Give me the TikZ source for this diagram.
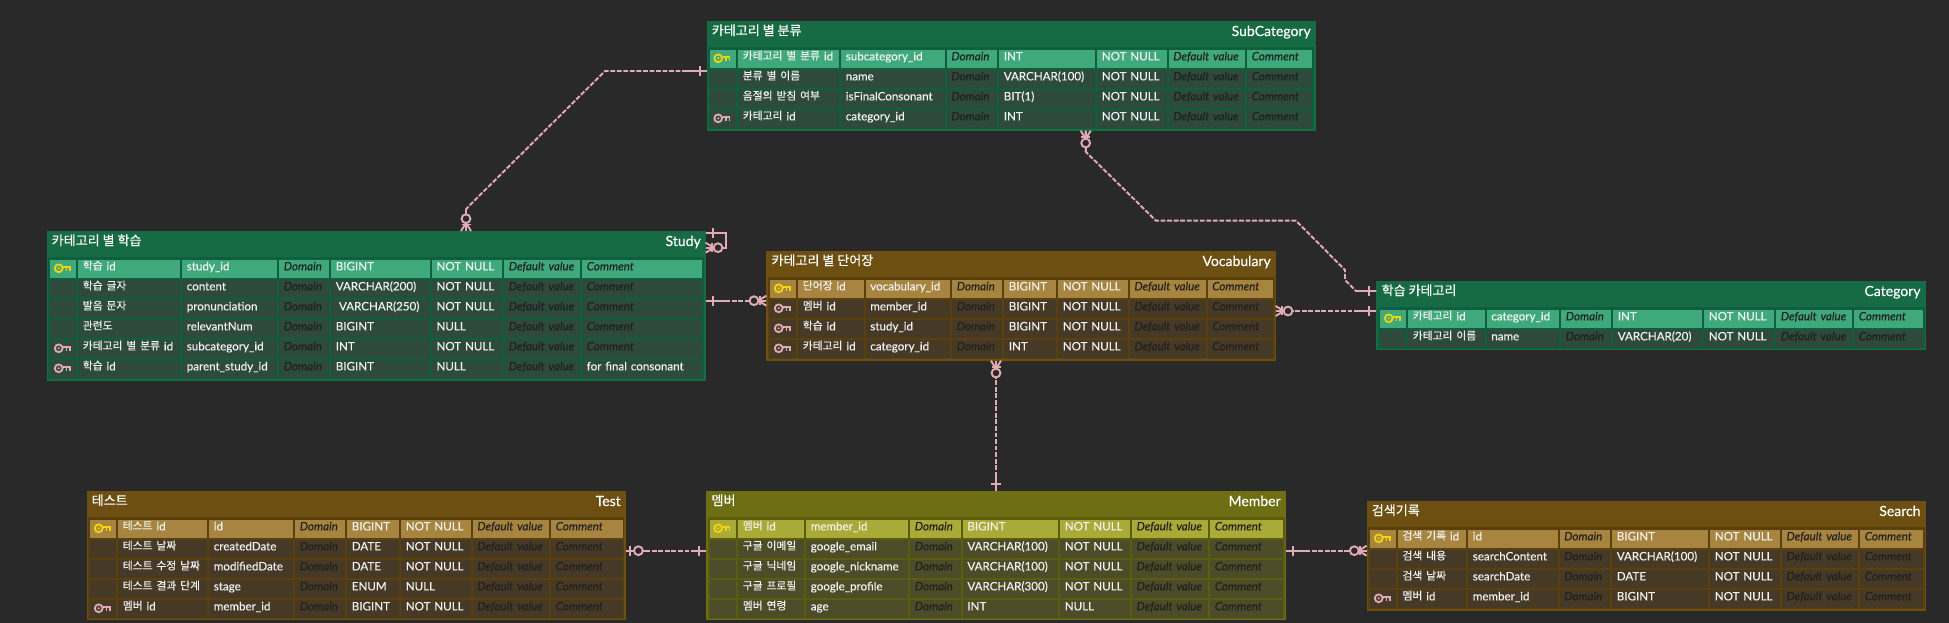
\documentclass[tikz,border=0pt]{standalone}
\usepackage{fontspec}
\setmainfont[FakeBold=0.2]{Lato}
\newfontfamily\cjk[FakeBold=0.25,Scale=0.93]{Noto Sans CJK KR}
\usepackage{tikz}
\usetikzlibrary{positioning}

\definecolor{pagebg}{HTML}{292929}
\definecolor{greenhead}{HTML}{166B45}
\definecolor{greenframe}{HTML}{0F5F3C}
\definecolor{greenpk}{HTML}{40A97B}
\definecolor{greenrow}{HTML}{2D4A3B}
\definecolor{brownhead}{HTML}{6E4F12}
\definecolor{brownframe}{HTML}{5A400C}
\definecolor{brownpk}{HTML}{A78540}
\definecolor{brownrow}{HTML}{463A26}
\definecolor{olivehead}{HTML}{6E6E14}
\definecolor{oliveframe}{HTML}{5C5C0E}
\definecolor{olivepk}{HTML}{AAAA38}
\definecolor{oliverow}{HTML}{4C4C28}
\definecolor{relpink}{HTML}{E0ABB5}
\definecolor{goldkey}{HTML}{F2D40F}
\definecolor{cellwhite}{HTML}{F2F2F2}
\definecolor{dimtxt}{HTML}{202020}

\newcommand{\ko}[1]{{\cjk\raisebox{0.6pt}{#1}}}
\newcounter{rowno}

\tikzset{
	x=0.75pt, y=-0.75pt,
	ercell/.style={anchor=north west, inner xsep=3.4pt, inner ysep=0pt,
		text height=8.1pt, text depth=5.4pt, text=cellwhite,
		font=\fontsize{8.7}{10}\selectfont},
	dimcell/.style={ercell, text=dimtxt},
	ertable/.style={inner sep=0pt, outer sep=0pt},
	ertitle/.style={inner sep=0pt, text=white, font=\fontsize{10.5}{12}\selectfont},
	relline/.style={draw=relpink, line width=1.45pt, dash pattern=on 3.6pt off 1.3pt},
	relsolid/.style={draw=relpink, line width=1.45pt},
	pics/onemark/.style={code={
		\draw[relsolid] (0,0) -- (#1,0);
		\draw[relsolid] (7,-5) -- (7,5);
	}},
	pics/manymark/.style={code={
		\draw[relsolid] (0,0) -- (#1,0);
		\draw[relsolid] (0,-5) -- (8,0) -- (0,5);
		\draw[relsolid] (6.5,-4.5) -- (6.5,4.5);
		\draw[relsolid, fill=pagebg] (12.3,0) circle[radius=4.4];
	}},
	pics/optonemark/.style={code={
		\draw[relsolid] (0,0) -- (#1,0);
		\draw[relsolid] (4.5,-5) -- (4.5,5);
		\draw[relsolid, fill=pagebg] (12.7,0) circle[radius=4.4];
	}},
	pics/keyicon/.style={code={
		\draw[#1, line width=1.35pt] (-4.3,0) circle[radius=3.9];
		\fill[#1] (-4.3,0) circle[radius=1.2];
		\draw[#1, line width=1.35pt] (0,-1.5) -- (7,-1.5) -- (7,3);
		\draw[#1, line width=1.35pt] (3.5,-1.5) -- (3.5,3);
	}}
}

\newcommand{\setcols}[9]{\def\ca{#1}\def\cb{#2}\def\cc{#3}\def\cd{#4}\def\ce{#5}\def\cf{#6}\def\cg{#7}\def\ch{#8}\def\ci{#9}}

% name, left, top, right, bottom, theme, korean, english
\newcommand{\ertabledraw}[8]{
	\def\tbl{#1}\def\tbltop{#3}\def\tbltheme{#6}
	\setcounter{rowno}{0}
	\pgfmathsetmacro\tblw{(#4-#2)*0.75}
	\pgfmathsetmacro\tblh{(#5-#3)*0.75}
	\node[ertable, fill=#6head, minimum width=\tblw pt, minimum height=\tblh pt, anchor=north west] (#1) at (#2,#3) {};
	\node[ertitle, anchor=base west] (#1-ko) at (#2+5,#3+15) {\ko{#7}};
	\node[ertitle, anchor=base east] (#1-en) at (#4-4.7,#3+15) {#8};
	\pgfmathsetmacro\frameleft{\ca-2}
	\pgfmathsetmacro\frametop{#3+26.3}
	\pgfmathsetmacro\framebot{#5-1.4}
	\fill[#6frame] (\frameleft,\frametop) rectangle (\ci,\framebot);
}

\newcommand{\ercellnode}[6]{
	\pgfmathsetmacro\cellw{(#3-#2-2)*0.75}
	\pgfmathsetmacro\textw{\cellw-6.8}
	\node[#4, fill=\rowfill, minimum height=13.5pt, text width=\textw pt] (\tbl-\therowno-#1) at (#2,\rowtop) {\mbox{#5}};
}

% fill, key, name, physical, type, null, comment
\newcommand{\errow}[7]{
	\stepcounter{rowno}
	\pgfmathsetmacro\rowtop{\tbltop+28.3+20*(\therowno-1)}
	\pgfmathsetmacro\keyy{\rowtop+9}
	\pgfmathsetmacro\keyx{\ca+13}
	\def\rowfill{#1}
	\ercellnode{key}{\ca}{\cb}{ercell}{}{}
	\ercellnode{name}{\cb}{\cc}{ercell}{#3}{}
	\ercellnode{phys}{\cc}{\cd}{ercell}{#4}{}
	\ercellnode{dom}{\cd}{\ce}{dimcell}{\itshape Domain}{}
	\ercellnode{type}{\ce}{\cf}{ercell}{#5}{}
	\ercellnode{null}{\cf}{\cg}{ercell}{#6}{}
	\ercellnode{def}{\cg}{\ch}{dimcell}{\itshape Default value}{}
	\def\cmttext{#7}
	\ifx\cmttext\empty
		\ercellnode{cmt}{\ch}{\ci}{dimcell}{\itshape Comment}{}
	\else
		\ercellnode{cmt}{\ch}{\ci}{ercell}{#7}{}
	\fi
	#2
}
\newcommand{\pkrow}[5]{\errow{\tbltheme pk}{\pic at (\keyx,\keyy) {keyicon=goldkey};}{#1}{#2}{#3}{#4}{#5}}
\newcommand{\fkrow}[5]{\errow{\tbltheme row}{\pic at (\keyx,\keyy) {keyicon=relpink};}{#1}{#2}{#3}{#4}{#5}}
\newcommand{\plainrow}[5]{\errow{\tbltheme row}{}{#1}{#2}{#3}{#4}{#5}}

\begin{document}
\begin{tikzpicture}
	\fill[pagebg] (0,0) rectangle (1949,623);

	\setcols{709.5}{738}{841}{946.6}{999}{1097}{1168.5}{1247}{1314}
	\ertabledraw{subcategory}{706.6}{21}{1315.7}{130.7}{green}{카테고리 별 분류}{SubCategory}
	\pkrow{\ko{카테고리 별 분류} id}{subcategory\_id}{INT}{NOT NULL}{}
	\plainrow{\ko{분류 별 이름}}{name}{VARCHAR(100)}{NOT NULL}{}
	\plainrow{\ko{음절의 받침 여부}}{isFinalConsonant}{BIT(1)}{NOT NULL}{}
	\fkrow{\ko{카테고리} id}{category\_id}{INT}{NOT NULL}{}

	\setcols{50}{78}{182}{279}{331}{431.7}{504}{582}{704}
	\ertabledraw{study}{46.5}{231}{705.7}{380.7}{green}{카테고리 별 학습}{Study}
	\pkrow{\ko{학습} id}{study\_id}{BIGINT}{NOT NULL}{}
	\plainrow{\ko{학습 글자}}{content}{VARCHAR(200)}{NOT NULL}{}
	\plainrow{\ko{발음 문자}}{pronunciation}{\hspace{2.4pt}VARCHAR(250)}{NOT NULL}{}
	\plainrow{\ko{관련도}}{relevantNum}{BIGINT}{NULL}{}
	\fkrow{\ko{카테고리 별 분류} id}{subcategory\_id}{INT}{NOT NULL}{}
	\fkrow{\ko{학습} id}{parent\_study\_id}{BIGINT}{NULL}{for final consonant}

	\setcols{770}{798}{865.5}{952}{1004}{1058}{1129.6}{1207.5}{1274.5}
	\ertabledraw{vocabulary}{766.3}{251}{1275.7}{360.7}{brown}{카테고리 별 단어장}{Vocabulary}
	\pkrow{\ko{단어장} id}{vocabulary\_id}{BIGINT}{NOT NULL}{}
	\fkrow{\ko{멤버} id}{member\_id}{BIGINT}{NOT NULL}{}
	\fkrow{\ko{학습} id}{study\_id}{BIGINT}{NOT NULL}{}
	\fkrow{\ko{카테고리} id}{category\_id}{INT}{NOT NULL}{}

	\setcols{1380}{1408}{1486.5}{1561}{1613}{1704}{1776}{1854}{1924.5}
	\ertabledraw{category}{1376.4}{281}{1925.5}{350.3}{green}{학습 카테고리}{Category}
	\pkrow{\ko{카테고리} id}{category\_id}{INT}{NOT NULL}{}
	\plainrow{\ko{카테고리 이름}}{name}{VARCHAR(20)}{NOT NULL}{}

	\setcols{90}{118}{209}{295}{347}{401}{472.6}{551}{624.4}
	\ertabledraw{test}{86.5}{491}{625.7}{620.3}{brown}{테스트}{Test}
	\pkrow{\ko{테스트} id}{id}{BIGINT}{NOT NULL}{}
	\plainrow{\ko{테스트 날짜}}{createdDate}{DATE}{NOT NULL}{}
	\plainrow{\ko{테스트 수정 날짜}}{modifiedDate}{DATE}{NOT NULL}{}
	\plainrow{\ko{테스트 결과 단계}}{stage}{ENUM}{NULL}{}
	\fkrow{\ko{멤버} id}{member\_id}{BIGINT}{NOT NULL}{}

	\setcols{709.5}{738}{806}{910}{962.6}{1060}{1131.8}{1210}{1284.5}
	\ertabledraw{member}{706.3}{491}{1285.6}{620.3}{olive}{멤버}{Member}
	\pkrow{\ko{멤버} id}{member\_id}{BIGINT}{NOT NULL}{}
	\plainrow{\ko{구글 이메일}}{google\_email}{VARCHAR(100)}{NOT NULL}{}
	\plainrow{\ko{구글 닉네임}}{google\_nickname}{VARCHAR(100)}{NOT NULL}{}
	\plainrow{\ko{구글 프로필}}{google\_profile}{VARCHAR(300)}{NOT NULL}{}
	\plainrow{\ko{멤버 연령}}{age}{INT}{NULL}{}

	\setcols{1370}{1397.7}{1468}{1559.4}{1612}{1710}{1781.7}{1860}{1924.5}
	\ertabledraw{search}{1366.6}{501}{1925.5}{610.7}{brown}{검색기록}{Search}
	\pkrow{\ko{검색 기록} id}{id}{BIGINT}{NOT NULL}{}
	\plainrow{\ko{검색 내용}}{searchContent}{VARCHAR(100)}{NOT NULL}{}
	\plainrow{\ko{검색 날짜}}{searchDate}{DATE}{NOT NULL}{}
	\fkrow{\ko{멤버} id}{member\_id}{BIGINT}{NOT NULL}{}

	\coordinate (subStudyA) at (605,71);
	\coordinate (subStudyB) at (470,205);
	\coordinate (subStudyC) at (466,209.3);
	\draw[relline] (subcategory.west |- subStudyA) -- (subStudyA) -- (subStudyB) -- (subStudyC) -- (study.north -| subStudyC);
	\pic[rotate=180] at (subcategory.west |- subStudyA) {onemark=21};
	\pic[rotate=90] at (study.north -| subStudyC) {manymark=21};

	\coordinate (subCatA) at (1085.7,151.7);
	\coordinate (subCatB) at (1089,155);
	\coordinate (subCatC) at (1156,220.7);
	\coordinate (subCatD) at (1296,220.7);
	\coordinate (subCatE) at (1345,270);
	\coordinate (subCatF) at (1345,280);
	\coordinate (subCatG) at (1356,291);
	\draw[relline] (subcategory.south -| subCatA) -- (subCatA) -- (subCatB) -- (subCatC) -- (subCatD) -- (subCatE) -- (subCatF) -- (subCatG) -- (category.west |- subCatG);
	\pic[rotate=-90] at (subcategory.south -| subCatA) {manymark=21};
	\pic[rotate=180] at (category.west |- subCatG) {onemark=20};

	\coordinate (vocCat) at (1320,311);
	\draw[relline] (vocabulary.east |- vocCat) -- (category.west |- vocCat);
	\pic at (vocabulary.east |- vocCat) {manymark=18};
	\pic[rotate=180] at (category.west |- vocCat) {onemark=22};

	\coordinate (loopA) at (726,232.7);
	\coordinate (loopB) at (726,247.7);
	\draw[relsolid] (study.east |- loopA) -- (loopA) -- (loopB) -- (study.east |- loopB);
	\pic at (study.east |- loopA) {onemark=0};
	\pic at (study.east |- loopB) {manymark=0};

	\coordinate (studyVoc) at (735,300.7);
	\draw[relline] (study.east |- studyVoc) -- (vocabulary.west |- studyVoc);
	\pic at (study.east |- studyVoc) {onemark=22};
	\pic[rotate=180] at (vocabulary.west |- studyVoc) {manymark=18};

	\coordinate (vocMem) at (996,420);
	\draw[relline] (vocabulary.south -| vocMem) -- (member.north -| vocMem);
	\pic[rotate=-90] at (vocabulary.south -| vocMem) {manymark=18};
	\pic[rotate=90] at (member.north -| vocMem) {onemark=19};

	\coordinate (testMem) at (660,550.7);
	\draw[relline] (test.east |- testMem) -- (member.west |- testMem);
	\pic at (test.east |- testMem) {optonemark=19};
	\pic[rotate=180] at (member.west |- testMem) {onemark=14};

	\coordinate (memSearch) at (1330,550.7);
	\draw[relline] (member.east |- memSearch) -- (search.west |- memSearch);
	\pic at (member.east |- memSearch) {onemark=20};
	\pic[rotate=180] at (search.west |- memSearch) {manymark=18};
\end{tikzpicture}
\end{document}
